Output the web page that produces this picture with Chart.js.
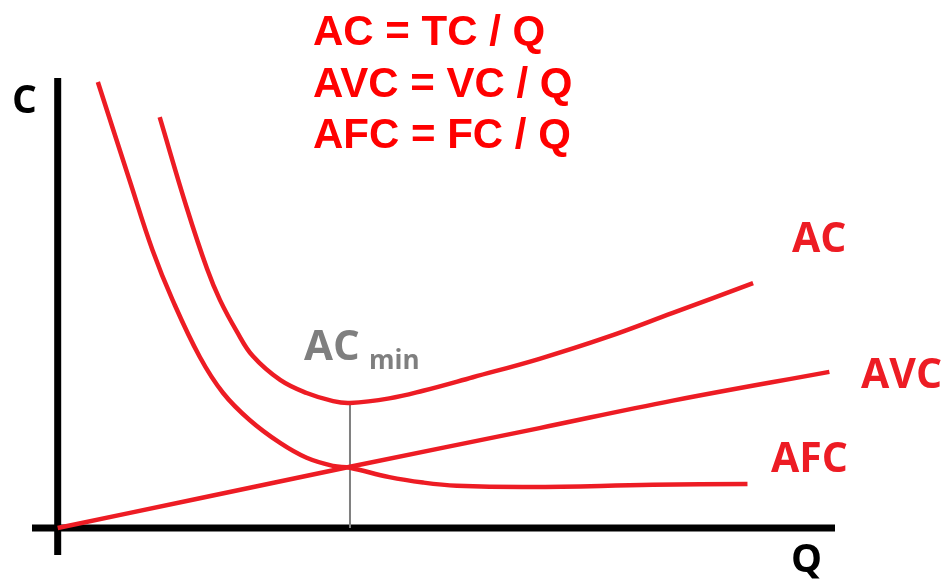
<!DOCTYPE html>
<html>
<head>
<meta charset="utf-8">
<script src="https://cdn.jsdelivr.net/npm/chart.js@4"></script>
<style>
  html, body { margin: 0; padding: 0; background: #fff; }
  #wrap { width: 952px; height: 580px; position: relative; }
</style>
</head>
<body>
<div id="wrap"><canvas id="cost-chart"></canvas></div>
<script>
// curves (Q, C)
let afcQ = [0.50, 0.90, 1.18, 1.43, 1.77, 2.06, 2.39, 2.77, 3.10, 3.43, 3.64, 4.13, 4.55, 4.97, 5.88, 7.41, 8.59];
let afcC = [9.91, 7.70, 6.18, 5.07, 3.80, 3.00, 2.40, 1.89, 1.56, 1.38, 1.34, 1.13, 1.01, 0.94, 0.91, 0.96, 0.98];

let acQ = [1.27, 1.61, 1.86, 2.02, 2.23, 2.43, 2.77, 3.10, 3.43, 3.64, 4.13, 4.55, 5.17, 6.00, 6.84, 7.66, 8.66];
let acC = [9.13, 7.10, 5.76, 5.07, 4.37, 3.82, 3.29, 3.00, 2.82, 2.78, 2.88, 3.05, 3.35, 3.76, 4.24, 4.78, 5.44];

let avcQ = [0, 1.77, 3.64, 6.00, 7.66, 9.61];
let avcC = [0, 0.66, 1.36, 2.22, 2.83, 3.47];

// AC minimum drop line
let minQ = [3.64, 3.64];
let minC = [2.78, 0];

let formulas = ['AC = TC / Q', 'AVC = VC / Q', 'AFC = FC / Q'];

let red = '#ed1c24';

let toPoints = (xs, ys) => xs.map((x, i) => ({ x: x, y: ys[i] }));

let curve = (label, xs, ys) => ({
  label: label,
  data: toPoints(xs, ys),
  borderColor: red,
  borderWidth: 4.5,
  showLine: true,
  pointRadius: 0,
  tension: 0.4,
  order: 1,
});

// black axes crossing at the origin, plus all text
let axesAndText = {
  id: 'axesAndText',
  beforeDatasetsDraw(chart) {
    let ctx = chart.ctx;
    let xs = chart.scales.x;
    let ys = chart.scales.y;
    let a = chart.chartArea;
    let x0 = xs.getPixelForValue(0);
    let y0 = ys.getPixelForValue(0);
    ctx.save();
    ctx.strokeStyle = '#000';
    ctx.lineWidth = 7;
    ctx.beginPath();
    ctx.moveTo(a.left, y0);
    ctx.lineTo(a.right, y0);
    ctx.moveTo(x0, a.top);
    ctx.lineTo(x0, a.bottom);
    ctx.stroke();
    ctx.restore();
  },
  afterDraw(chart) {
    let ctx = chart.ctx;
    ctx.save();
    ctx.textBaseline = 'alphabetic';
    ctx.textAlign = 'left';

    ctx.fillStyle = '#ff0000';
    ctx.font = 'bold 42px "Liberation Sans", Arial, sans-serif';
    formulas.forEach((f, i) => ctx.fillText(f, 313, 45 + i * 51.5));

    ctx.fillStyle = red;
    ctx.font = 'bold 41px "Open Sans", sans-serif';
    ctx.fillText('AC', 792, 252);
    ctx.fillText('AVC', 861, 388);
    ctx.fillText('AFC', 771, 472);

    ctx.fillStyle = '#000';
    ctx.font = 'bold 39px "Open Sans", sans-serif';
    ctx.fillText('C', 12, 113);
    ctx.fillText('Q', 791, 572);

    ctx.fillStyle = '#7f7f7f';
    ctx.font = 'bold 42px "Open Sans", sans-serif';
    ctx.fillText('AC', 304, 360);
    ctx.font = 'bold 26px "Open Sans", sans-serif';
    ctx.fillText('min', 369, 369);
    ctx.restore();
  },
};

new Chart(document.getElementById('cost-chart'), {
  type: 'scatter',
  data: {
    datasets: [
      curve('AFC', afcQ, afcC),
      curve('AC', acQ, acC),
      curve('AVC', avcQ, avcC),
      {
        label: 'AC min',
        data: toPoints(minQ, minC),
        borderColor: '#808080',
        borderWidth: 2,
        showLine: true,
        pointRadius: 0,
        order: 2,
      },
    ],
  },
  options: {
    responsive: true,
    maintainAspectRatio: false,
    animation: false,
    layout: { padding: { left: 32, right: 117, top: 78, bottom: 25 } },
    plugins: { legend: { display: false }, tooltip: { enabled: false } },
    scales: {
      x: { type: 'linear', min: -0.32, max: 9.68, display: false },
      y: { type: 'linear', min: -0.6, max: 10, display: false },
    },
  },
  plugins: [axesAndText],
});
</script>
</body>
</html>
